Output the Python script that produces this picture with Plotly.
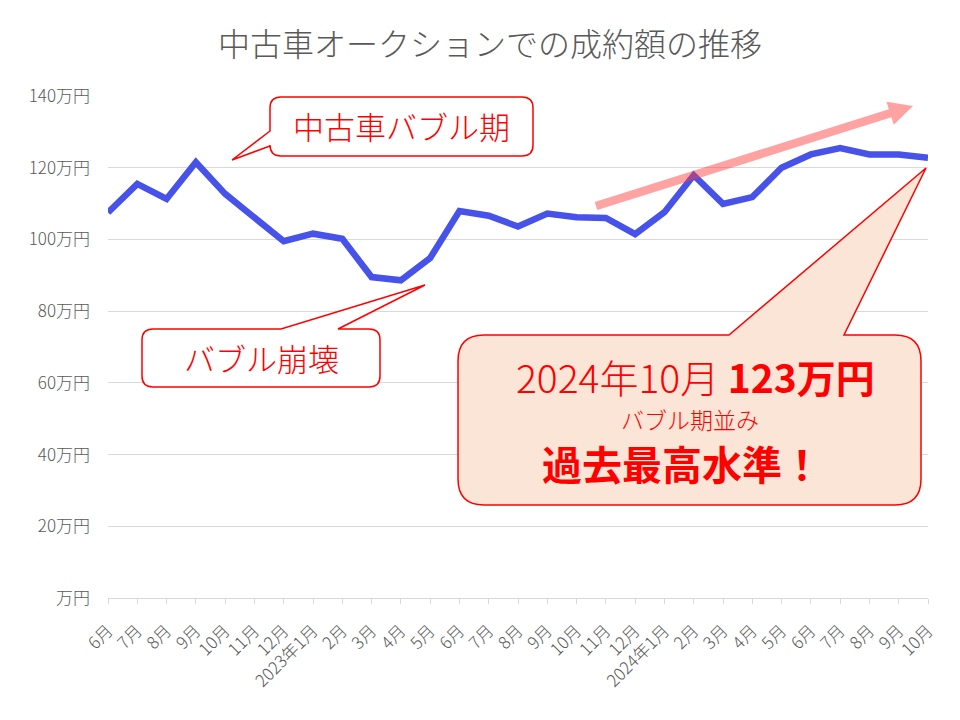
import plotly.graph_objects as go

# ---- data ----
months = ["6月", "7月", "8月", "9月", "10月", "11月", "12月",
          "2023年1月", "2月", "3月", "4月", "5月", "6月", "7月", "8月", "9月", "10月", "11月", "12月",
          "2024年1月", "2月", "3月", "4月", "5月", "6月", "7月", "8月", "9月", "10月"]
values = [107.5, 115.5, 111.3, 121.5, 112.7, 106.2, 99.5,
          101.6, 100.2, 89.5, 88.6, 94.8, 107.9, 106.6, 103.6, 107.2, 106.2, 106.0, 101.5,
          107.6, 117.9, 109.9, 111.8, 120.0, 123.7, 125.5, 123.7, 123.7, 122.8]
y_ticks = [0, 20, 40, 60, 80, 100, 120, 140]
y_tick_text = ["万円", "20万円", "40万円", "60万円", "80万円", "100万円", "120万円", "140万円"]

FONT = "Noto Sans CJK JP"
RED = "#FF0000"
GRAY = "#595959"

# plot area in pixels
L, R, T, B = 108, 928, 96, 598
W, H = 960, 720
N = len(months)


def px2d(px, py):
    """pixel -> data coordinates"""
    return ((px - L) / (R - L) * (N - 1), (B - py) / (B - T) * 140)


def px2p(px, py):
    return ((px - L) / (R - L), (B - py) / (B - T))


def callout_path(x0, y0, x1, y1, r, edge, b1, b2, tip):
    """rounded rect with pointer; coords in pixels; returns SVG path in data coords"""
    def P(x, y):
        dx, dy = px2d(x, y)
        return f"{dx:.4f},{dy:.4f}"

    segs = []
    segs.append("M" + P(x0 + r, y0))
    if edge == "top":
        segs.append("L" + P(b1, y0))
        segs.append("L" + P(*tip))
        segs.append("L" + P(b2, y0))
    segs.append("L" + P(x1 - r, y0))
    segs.append("Q" + P(x1, y0) + " " + P(x1, y0 + r))
    segs.append("L" + P(x1, y1 - r))
    segs.append("Q" + P(x1, y1) + " " + P(x1 - r, y1))
    segs.append("L" + P(x0 + r, y1))
    segs.append("Q" + P(x0, y1) + " " + P(x0, y1 - r))
    if edge == "left":
        segs.append("L" + P(x0, b2))
        segs.append("L" + P(*tip))
        segs.append("L" + P(x0, b1))
    segs.append("L" + P(x0, y0 + r))
    segs.append("Q" + P(x0, y0) + " " + P(x0 + r, y0))
    segs.append("Z")
    return " ".join(segs)


def arrow_path(tail, tip, shaft_w, head_len, head_w):
    import math
    dx, dy = tip[0] - tail[0], tip[1] - tail[1]
    ln = math.hypot(dx, dy)
    ux, uy = dx / ln, dy / ln
    nx, ny = -uy, ux
    bx, by = tip[0] - ux * head_len, tip[1] - uy * head_len
    pts = [
        (tail[0] + nx * shaft_w / 2, tail[1] + ny * shaft_w / 2),
        (bx + nx * shaft_w / 2, by + ny * shaft_w / 2),
        (bx + nx * head_w / 2, by + ny * head_w / 2),
        tip,
        (bx - nx * head_w / 2, by - ny * head_w / 2),
        (bx - nx * shaft_w / 2, by - ny * shaft_w / 2),
        (tail[0] - nx * shaft_w / 2, tail[1] - ny * shaft_w / 2),
    ]
    s = []
    for i, (x, y) in enumerate(pts):
        ddx, ddy = px2d(x, y)
        s.append(("M" if i == 0 else "L") + f"{ddx:.4f},{ddy:.4f}")
    return " ".join(s) + " Z"


fig = go.Figure()
fig.add_trace(go.Scatter(
    x=list(range(N)), y=values, mode="lines",
    line=dict(color="#4652EA", width=6.5),
    hoverinfo="skip", showlegend=False,
))

shapes = []
# callout 1: 中古車バブル期
shapes.append(dict(type="path", xref="x", yref="y", layer="above",
                   path=callout_path(270, 97, 533, 156, 11, "left", 131, 146, (232, 160)),
                   fillcolor="white", line=dict(color=RED, width=1.5)))
# callout 2: バブル崩壊
shapes.append(dict(type="path", xref="x", yref="y", layer="above",
                   path=callout_path(142, 329, 380, 387, 11, "top", 281, 338, (425, 285)),
                   fillcolor="white", line=dict(color=RED, width=1.5)))
# callout 3: big
shapes.append(dict(type="path", xref="x", yref="y", layer="above",
                   path=callout_path(458, 335, 921, 505, 26, "top", 729, 844, (926, 168)),
                   fillcolor="#FBE5D6", line=dict(color=RED, width=1.5)))
# pink arrow
shapes.append(dict(type="path", xref="x", yref="y", layer="above",
                   path=arrow_path((596, 206), (913, 106), 8.5, 24, 24),
                   fillcolor="rgba(255,60,60,0.48)", line=dict(width=0)))

annotations = []


def add_text(text, px, py, size, weight=300):
    ax, ay = px2p(px, py)
    annotations.append(dict(text=text, x=ax, y=ay, xref="paper", yref="paper",
                            showarrow=False, xanchor="center", yanchor="middle",
                            font=dict(family=FONT, size=size, color=RED, weight=weight)))


add_text("中古車バブル期", 401, 126, 31)
add_text("バブル崩壊", 261, 357, 31)
add_text("2024年10月 <b>123万円</b>", 695, 376, 39)
add_text("バブル期並み", 690, 419, 23)
add_text("<b>過去最高水準！</b>", 682, 463, 40)

fig.update_layout(
    width=W, height=H,
    margin=dict(l=L, r=W - R, t=T, b=H - B, autoexpand=False),
    paper_bgcolor="white", plot_bgcolor="white",
    title=dict(text="中古車オークションでの成約額の推移", x=490 / W, xanchor="center",
               y=1 - 45 / H, yanchor="middle",
               font=dict(family=FONT, size=32, color=GRAY, weight=300)),
    font=dict(family=FONT, color=GRAY),
    shapes=shapes, annotations=annotations,
    xaxis=dict(range=[0, N - 1], tickvals=list(range(N)), ticktext=months,
               tickangle=-45, tickfont=dict(family=FONT, size=17, color=GRAY, weight=300),
               showgrid=False, zeroline=False, showline=True, linecolor="#D9D9D9", linewidth=1,
               ticks="outside", ticklen=5, tickcolor="#D9D9D9", automargin=False,
               ticklabelstandoff=10),
    yaxis=dict(range=[0, 140], tickvals=y_ticks, ticktext=y_tick_text,
               tickfont=dict(family=FONT, size=17, color=GRAY, weight=300),
               showgrid=True, gridcolor="#D9D9D9", gridwidth=1, zeroline=False,
               showline=False, ticks="", ticklabelstandoff=17, automargin=False),
)

fig.write_html("out.html")
